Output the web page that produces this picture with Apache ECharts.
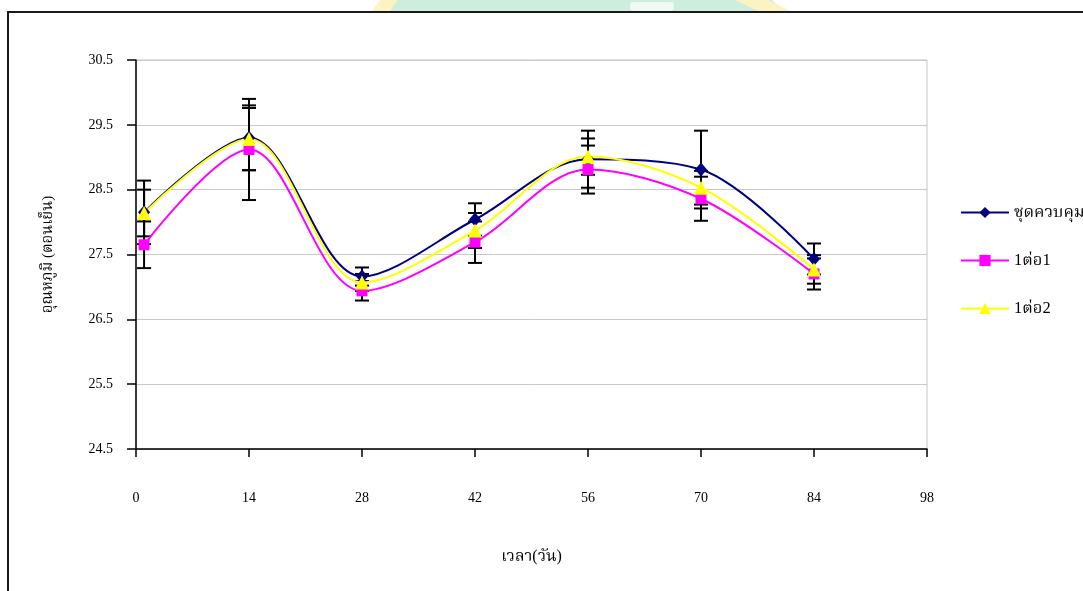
<!DOCTYPE html>
<html>
<head>
<meta charset="utf-8">
<script src="https://cdn.jsdelivr.net/npm/echarts@6/dist/echarts.min.js"></script>
<style>
  html, body { margin: 0; padding: 0; background: #fff; }
  #chart { width: 1083px; height: 591px; }
</style>
</head>
<body>
<div id="chart"></div>
<script>
// Evening temperature over time (days), three treatments with error bars
const days = [1, 14, 28, 42, 56, 70, 84];
const seriesNames = ['ชุดควบคุม', '1ต่อ1', '1ต่อ2'];
const controlTemp = [28.15, 29.30, 27.16, 28.04, 28.97, 28.81, 27.43];
const ratio11Temp = [27.65, 29.12, 26.94, 27.69, 28.81, 28.36, 27.20];
const ratio12Temp = [28.14, 29.28, 27.07, 27.87, 29.01, 28.53, 27.27];
const controlErr = [0.49, 0.50, 0.14, 0.25, 0.44, 0.60, 0.24];
const ratio11Err = [0.36, 0.78, 0.15, 0.32, 0.37, 0.34, 0.24];
const ratio12Err = [0.36, 0.48, 0.13, 0.27, 0.28, 0.26, 0.22];
const xTicks = [0, 14, 28, 42, 56, 70, 84, 98];
const yTicks = [24.5, 25.5, 26.5, 27.5, 28.5, 29.5, 30.5];
const xTitle = 'เวลา(วัน)';
const yTitle = 'อุณหภูมิ (ตอนเย็น)';

const FONT = "'Liberation Serif', 'Times New Roman', 'Noto Serif Thai', 'Noto Sans Thai', 'Loma', 'Garuda', serif";

function pairs(vals) { return days.map((d, i) => [d, vals[i]]); }
function errRows(vals, errs) { return days.map((d, i) => [d, vals[i] - errs[i], vals[i] + errs[i]]); }

function renderErrorBar(params, api) {
  const x = api.value(0);
  const lo = api.coord([x, api.value(1)]);
  const hi = api.coord([x, api.value(2)]);
  const half = 7;
  const style = { stroke: '#000', lineWidth: 2 };
  return {
    type: 'group',
    children: [
      { type: 'line', shape: { x1: lo[0], y1: lo[1], x2: hi[0], y2: hi[1] }, style },
      { type: 'line', shape: { x1: hi[0] - half, y1: hi[1], x2: hi[0] + half, y2: hi[1] }, style },
      { type: 'line', shape: { x1: lo[0] - half, y1: lo[1], x2: lo[0] + half, y2: lo[1] }, style }
    ]
  };
}

function errSeries(vals, errs) {
  return {
    type: 'custom',
    renderItem: renderErrorBar,
    data: errRows(vals, errs),
    encode: { x: 0, y: [1, 2] },
    z: 1,
    silent: true
  };
}

function lineSeries(name, vals, color, symbol, size) {
  return {
    name: name,
    type: 'line',
    data: pairs(vals),
    smooth: 0.33,
    symbol: symbol,
    symbolSize: size,
    showAllSymbol: true,
    lineStyle: { color: color, width: 2 },
    itemStyle: { color: color },
    z: 3
  };
}

const chart = echarts.init(document.getElementById('chart'), null, { renderer: 'canvas' });

chart.setOption({
  animation: false,
  backgroundColor: '#fff',
  textStyle: { fontFamily: FONT, color: '#000' },
  graphic: [
    // pale logo strip peeking above the frame
    { type: 'polygon', z: -10, shape: { points: [[392, 0], [772, 0], [784, 11], [382, 11]] }, style: { fill: '#cdeedc' } },
    { type: 'polygon', z: -9, shape: { points: [[380, 0], [398, 0], [390, 11], [372, 11]] }, style: { fill: '#fbf3c4' } },
    { type: 'polygon', z: -9, shape: { points: [[735, 0], [768, 0], [790, 11], [758, 11]] }, style: { fill: '#fbf3c4' } },
    { type: 'circle', z: -8, shape: { cx: 644, cy: 7, r: 5 }, style: { fill: '#f4fbf7' } },
    { type: 'rect', z: -8, shape: { x: 630, y: 2, width: 44, height: 9, r: 4 }, style: { fill: '#eefaf3' } },
    // outer chart frame
    { type: 'polyline', z: 10, shape: { points: [[8, 591], [8, 12], [1083, 12]] }, style: { stroke: '#1a1a1a', lineWidth: 2, fill: null } }
  ],
  legend: {
    orient: 'vertical',
    left: 955,
    top: 199,
    itemWidth: 48,
    itemHeight: 14,
    itemGap: 31,
    data: seriesNames,
    textStyle: { fontFamily: FONT, fontSize: 16.5, color: '#000' }
  },
  grid: {
    left: 136,
    right: 156,
    top: 60,
    bottom: 142,
    show: true,
    borderColor: '#c4c4c4',
    borderWidth: 1,
    backgroundColor: '#fff'
  },
  xAxis: {
    type: 'value',
    min: xTicks[0],
    max: xTicks[xTicks.length - 1],
    interval: 14,
    name: xTitle,
    nameLocation: 'middle',
    nameGap: 100,
    nameTextStyle: { fontFamily: FONT, fontSize: 16, color: '#000' },
    axisLine: { show: true, lineStyle: { color: '#000', width: 1.5 } },
    axisTick: { show: true, length: 8, lineStyle: { color: '#000', width: 1.5 } },
    axisLabel: { margin: 42, fontSize: 14, color: '#000', fontFamily: FONT },
    splitLine: { show: false }
  },
  yAxis: {
    type: 'value',
    min: yTicks[0],
    max: yTicks[yTicks.length - 1],
    interval: 1,
    name: yTitle,
    nameLocation: 'middle',
    nameGap: 80,
    nameTextStyle: { fontFamily: FONT, fontSize: 15, color: '#000' },
    axisLine: { show: true, lineStyle: { color: '#000', width: 1.5 } },
    axisTick: { show: true, length: 9, lineStyle: { color: '#000', width: 1.5 } },
    axisLabel: {
      margin: 23, fontSize: 14, color: '#000', fontFamily: FONT,
      formatter: v => v.toFixed(1)
    },
    splitLine: { show: true, lineStyle: { color: '#c8c8c8', width: 1 } }
  },
  series: [
    errSeries(controlTemp, controlErr),
    errSeries(ratio11Temp, ratio11Err),
    errSeries(ratio12Temp, ratio12Err),
    lineSeries(seriesNames[0], controlTemp, '#000080', 'diamond', [12, 14]),
    lineSeries(seriesNames[1], ratio11Temp, '#ff00ff', 'rect', 11),
    lineSeries(seriesNames[2], ratio12Temp, '#ffff00', 'triangle', 14)
  ]
});
</script>
</body>
</html>
